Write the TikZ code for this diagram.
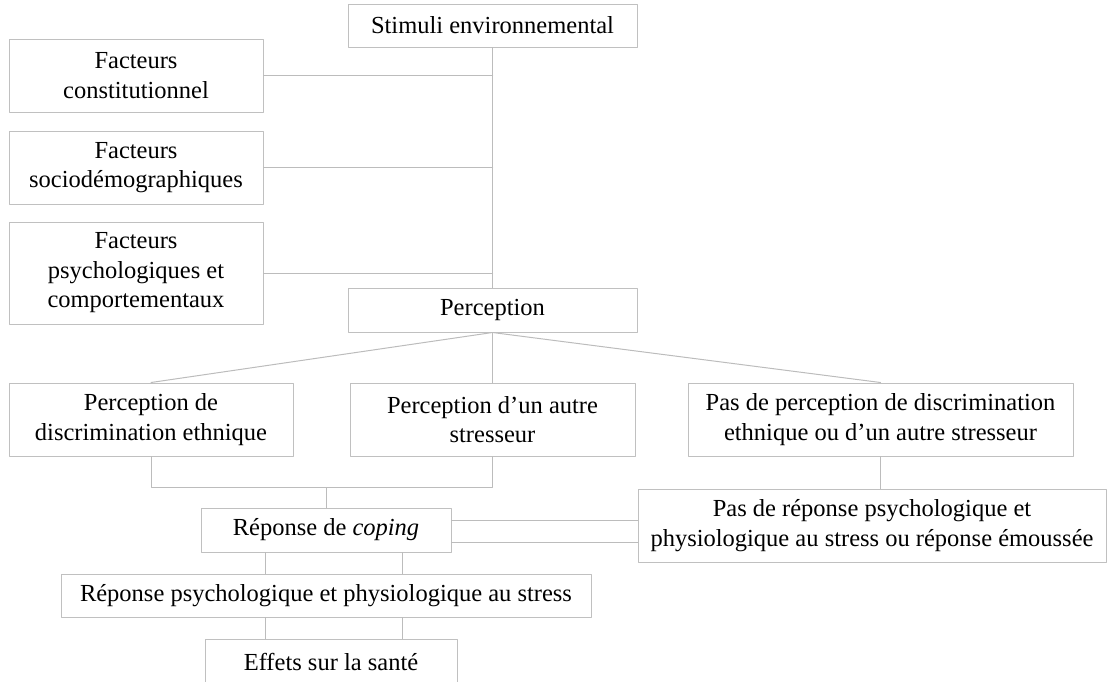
\documentclass[tikz,border=0pt]{standalone}
\usepackage{fontspec}
\setmainfont{Liberation Serif}
\definecolor{boxgray}{RGB}{192,192,192}
\definecolor{linegray}{RGB}{188,188,188}

\begin{document}
\begin{tikzpicture}[x=1pt, y=-1pt, line join=round, line cap=round,
	box/.style={draw=boxgray, line width=1pt, align=center, inner sep=0pt, font=\fontsize{24.5}{29.5}\selectfont},
	link/.style={draw=linegray, line width=1pt}]
	\useasboundingbox (0,0) rectangle (1115,681);
	% boxes
	\node[box, minimum width=289pt, minimum height=43pt] (stim) at (492.5,25.5) {Stimuli environnemental};
	\node[box, minimum width=254pt, minimum height=73pt] (fc) at (136,75.5) {Facteurs\\constitutionnel};
	\node[box, minimum width=254pt, minimum height=73pt] (fs) at (136,167.5) {Facteurs\\sociodémographiques};
	\node[box, minimum width=254pt, minimum height=102pt] (fp) at (136,273) {Facteurs\\psychologiques et\\comportementaux};
	\node[box, minimum width=289pt, minimum height=44pt] (perc) at (492.5,310) {Perception};
	\node[box, minimum width=284pt, minimum height=73pt] (pde) at (151,419.5) {Perception de\\discrimination ethnique};
	\node[box, minimum width=285pt, minimum height=73pt] (pas) at (492.5,419.5) {Perception d’un autre\\stresseur};
	\node[box, minimum width=385pt, minimum height=73pt] (npd) at (880.5,419.5) {Pas de perception de discrimination\\ethnique ou d’un autre stresseur};
	\node[box, minimum width=250pt, minimum height=44pt] (cop) at (326,530) {Réponse de \textit{coping}};
	\node[box, minimum width=468pt, minimum height=73pt] (nrep) at (872,525.5) {Pas de réponse psychologique et\\physiologique au stress ou réponse émoussée};
	\node[box, minimum width=530pt, minimum height=43pt] (rps) at (326,595.5) {Réponse psychologique et physiologique au stress};
	\node[box, minimum width=252pt, minimum height=46pt] (eff) at (331,662) {Effets sur la santé};
	% links
	\draw[link] (stim.south) -- (perc.north);
	\foreach \f in {fc,fs,fp}
		\draw[link] (\f.east) -- (\f.east -| stim.south);
	\foreach \p in {pde,pas,npd}
		\draw[link] (perc.south) -- (\p.north);
	\draw[link] (pde.south) -- ++(0,31) coordinate (join) -| (pas.south);
	\draw[link] (cop.north) -- (cop.north |- join);
	\draw[link] (npd.south) -- (npd.south |- nrep.north);
	\foreach \dy in {10,-12}{
		\coordinate (cr) at ([yshift=\dy pt]cop.east);
		\draw[link] (cr) -- (cr -| nrep.west);
	}
	\foreach \dx in {-61,76}{
		\coordinate (cb) at ([xshift=\dx pt]cop.south);
		\draw[link] (cb) -- (cb |- rps.north);
		\draw[link] (cb |- rps.south) -- (cb |- eff.north);
	}
\end{tikzpicture}
\end{document}
